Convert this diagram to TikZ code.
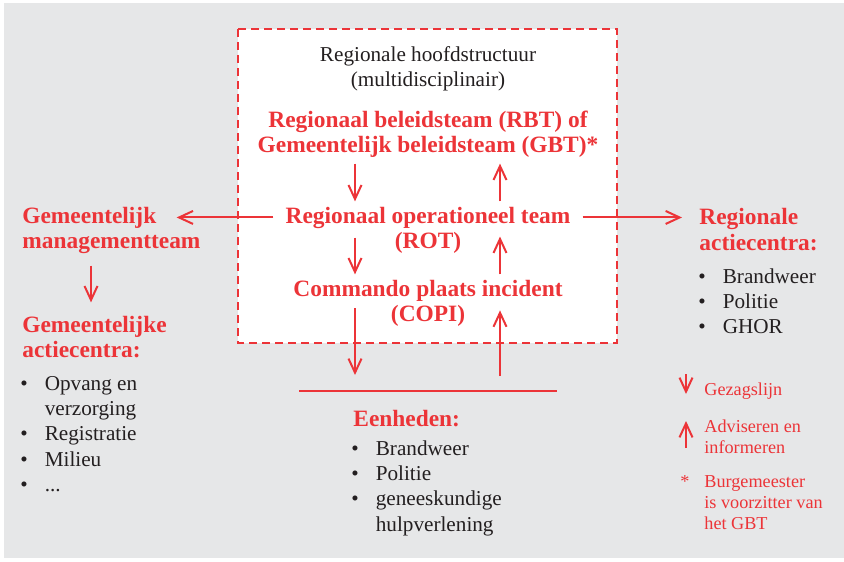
\documentclass[tikz,border=0pt]{standalone}
\usepackage{fontspec}
\setmainfont{Liberation Serif}
\usetikzlibrary{arrows.meta, positioning}

\definecolor{crisisred}{RGB}{236,52,56}
\definecolor{panelgray}{RGB}{230,231,232}
\definecolor{inkblack}{RGB}{35,31,32}

\newcommand{\bulletlist}[1]{\begin{tabular}[t]{@{}l@{\hspace{8.5pt}}l@{}}#1\end{tabular}}
\newcommand{\leftstack}[1]{\begin{tabular}[t]{@{}l@{}}#1\end{tabular}}

\begin{document}
\begin{tikzpicture}[x=0.5pt, y=-0.5pt,
  title/.style={font=\fontsize{11.7}{12.5}\selectfont\bfseries, text=crisisred, inner sep=0pt},
  body/.style={font=\fontsize{10.6}{12.7}\selectfont, text=inkblack, inner sep=0pt},
  legend/.style={font=\fontsize{9.1}{10.5}\selectfont, text=crisisred, inner sep=0pt},
  flow/.style={draw=crisisred, line width=1pt, -{Straight Barb[length=7pt, width=6.5pt, line width=1pt]}},
  bar/.style={draw=crisisred, line width=1pt}]
\useasboundingbox (0,0) rectangle (844,561);
\fill[panelgray] (4,3) rectangle (844,558);
\draw[crisisred, fill=white, line width=1pt, dash pattern=on 4pt off 2.5pt] (238,29) rectangle (617,343);

% regionale hoofdstructuur
\node[body, align=center] (rhs) at (428,69) {Regionale hoofdstructuur\\(multidisciplinair)};
\node[title, align=center] (rbt) at (428,134) {Regionaal beleidsteam (RBT) of\\Gemeentelijk beleidsteam (GBT)*};
\node[title, anchor=base] (rot) at (428,223) {Regionaal operationeel team};
\node[title, anchor=base] (rotab) at (428,248) {(ROT)};
\node[title, anchor=base] (copi) at (428,296) {Commando plaats incident};
\node[title, anchor=base] (copiab) at (428,321) {(COPI)};

% gemeente
\node[title, anchor=base west] (gmt) at (22,223) {Gemeentelijk};
\node[title, anchor=base west] (gmtb) at (22,248) {managementteam};
\node[title, anchor=base west] (gac) at (22,332) {Gemeentelijke};
\node[title, anchor=base west] (gacb) at (22,357) {actiecentra:};
\node[body, anchor=base west] (gaclist) at (20,390) {\bulletlist{%
  \textbullet & Opvang en\\ & verzorging\\ \textbullet & Registratie\\
  \textbullet & Milieu\\ \textbullet & ...}};

% regio
\node[title, anchor=base west] (rac) at (699,224) {Regionale};
\node[title, anchor=base west] (racb) at (699,250) {actiecentra:};
\node[body, anchor=base west] (raclist) at (698,283) {\bulletlist{%
  \textbullet & Brandweer\\ \textbullet & Politie\\ \textbullet & GHOR}};

% eenheden
\coordinate (barl) at (299,391);
\coordinate (barr) at (557,391);
\node[title, anchor=base west] (eenh) at (353,426) {Eenheden:};
\node[body, anchor=base west] (eenhlist) at (351,455) {\bulletlist{%
  \textbullet & Brandweer\\ \textbullet & Politie\\
  \textbullet & geneeskundige\\ & hulpverlening}};

% legenda
\node[legend, anchor=base west] (lgauth) at (704,395) {Gezagslijn};
\node[legend, anchor=base west] (lgadv) at (704,432) {\leftstack{Adviseren en\\informeren}};
\node[legend, anchor=base west] (lgstar) at (680,487) {*};
\node[legend, anchor=base west] (lgburg) at (704,487) {\leftstack{Burgemeester\\is voorzitter van\\het GBT}};
\coordinate (lgdtop) at (686,374);
\coordinate (lgdbot) at (686,394);
\coordinate (lgubot) at (686,448);
\coordinate (lgutop) at (686,421);

\coordinate (dn) at (355,0);
\coordinate (up) at (500,0);
\coordinate (gdn) at (91,0);

\draw[flow, shorten <=3pt, shorten >=2.5pt] (rbt.south -| dn) -- (rot.north -| dn);
\draw[flow, shorten <=2.5pt, shorten >=3pt] (rot.north -| up) -- (rbt.south -| up);
\draw[flow, shorten <=4.5pt, shorten >=2.5pt] (rot.south -| dn) -- (copi.north -| dn);
\draw[flow, shorten <=2.5pt, shorten >=4pt] (copi.north -| up) -- (rot.south -| up);
\draw[bar] (barl) -- (barr);
\draw[flow, shorten <=3.5pt, shorten >=8pt] (copi.south -| dn) -- (barl -| dn);
\draw[flow, shorten <=7.5pt, shorten >=4.5pt] (barl -| up) -- (copi.south -| up);

\draw[flow, shorten <=6pt, shorten >=10pt] (rot.west) -- (rot.west -| gmt.east);
\draw[flow, shorten <=6pt, shorten >=8.5pt] (rot.east) -- (rot.east -| rac.west);
\draw[flow, shorten <=6pt, shorten >=6.5pt] (gmtb.south -| gdn) -- (gac.north -| gdn);

\draw[flow] (lgdtop) -- (lgdbot);
\draw[flow] (lgubot) -- (lgutop);
\end{tikzpicture}
\end{document}
